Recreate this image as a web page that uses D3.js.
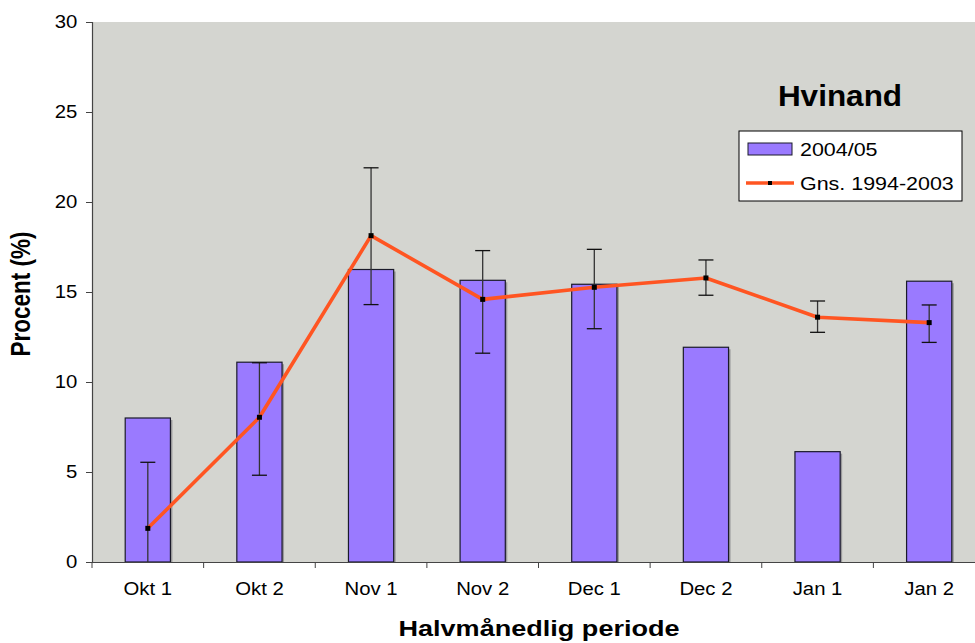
<!DOCTYPE html>
<html>
<head>
<meta charset="utf-8">
<script src="https://cdn.jsdelivr.net/npm/d3@7"></script>
<style>
  body { margin: 0; background: #fff; }
  text { font-family: "Liberation Sans", Arial, sans-serif; }
</style>
</head>
<body>
<div id="chart"></div>
<script>
const periods = ['Okt 1', 'Okt 2', 'Nov 1', 'Nov 2', 'Dec 1', 'Dec 2', 'Jan 1', 'Jan 2'];
const season = [8.0, 11.1, 16.25, 15.65, 15.43, 11.93, 6.13, 15.6];
const avg = [1.87, 8.04, 18.13, 14.59, 15.26, 15.78, 13.6, 13.3];
const errHigh = [5.54, 11.07, 21.9, 17.3, 17.37, 16.78, 14.5, 14.28];
const errLow = [-1.8, 4.82, 14.3, 11.6, 12.96, 14.82, 12.76, 12.2];
const yTicks = [0, 5, 10, 15, 20, 25, 30];

const W = 975, H = 643;
const margin = { top: 22, right: -10, bottom: 81, left: 92 };
const width = W - margin.left - margin.right;
const height = H - margin.top - margin.bottom;
// text in the original is a bit wider than it is tall
const stretch = 1.13;

const svg = d3.select('#chart').append('svg')
  .attr('width', W).attr('height', H);

const g = svg.append('g')
  .attr('transform', `translate(${margin.left},${margin.top})`);

const x = d3.scaleBand().domain(periods).range([0, width]).padding(0);
const y = d3.scaleLinear().domain([0, 30]).range([height, 0]);

g.append('defs').append('clipPath').attr('id', 'plotclip')
  .append('rect').attr('width', width).attr('height', height);

// plot background
g.append('rect')
  .attr('width', width).attr('height', height)
  .attr('fill', '#d4d5d0');

const barW = x.bandwidth() * 0.405;

// bar shadows
g.selectAll('.shadow')
  .data(season)
  .enter().append('rect')
  .attr('x', (d, i) => x(periods[i]) + (x.bandwidth() - barW) / 2 + 2)
  .attr('y', d => y(d) + 2)
  .attr('width', barW)
  .attr('height', d => height - y(d) - 2)
  .attr('fill', '#9a9a9a');

g.selectAll('.bar')
  .data(season)
  .enter().append('rect')
  .attr('class', 'bar')
  .attr('x', (d, i) => x(periods[i]) + (x.bandwidth() - barW) / 2)
  .attr('y', d => y(d))
  .attr('width', barW)
  .attr('height', d => height - y(d))
  .attr('fill', '#9a7aff')
  .attr('stroke', '#1a1a2a')
  .attr('stroke-width', 1.2);

const cx = i => x(periods[i]) + x.bandwidth() / 2;

// error bars
const eb = g.append('g').attr('clip-path', 'url(#plotclip)');
periods.forEach((p, i) => {
  eb.append('line')
    .attr('x1', cx(i)).attr('x2', cx(i))
    .attr('y1', y(errHigh[i])).attr('y2', y(errLow[i]))
    .attr('stroke', '#333').attr('stroke-width', 1.3);
  [errHigh[i], errLow[i]].forEach(v => {
    eb.append('line')
      .attr('x1', cx(i) - 7.5).attr('x2', cx(i) + 7.5)
      .attr('y1', y(v)).attr('y2', y(v))
      .attr('stroke', '#111').attr('stroke-width', 1.3);
  });
});

// average line
const line = d3.line()
  .x((d, i) => cx(i))
  .y(d => y(d));

g.append('path')
  .datum(avg)
  .attr('d', line)
  .attr('fill', 'none')
  .attr('stroke', '#ff5522')
  .attr('stroke-width', 3.6)
  .attr('stroke-linejoin', 'round');

g.selectAll('.pt')
  .data(avg)
  .enter().append('rect')
  .attr('x', (d, i) => cx(i) - 2.5)
  .attr('y', d => y(d) - 2.5)
  .attr('width', 5).attr('height', 5)
  .attr('fill', '#000');

// axes
const yAxis = g.append('g')
  .call(d3.axisLeft(y).tickValues(yTicks).tickSize(6).tickPadding(7));
yAxis.select('.domain').attr('stroke', '#444').attr('stroke-width', 1.2);
yAxis.selectAll('.tick line').attr('stroke', '#444');
yAxis.selectAll('text').attr('font-size', 18).attr('fill', '#000')
  .attr('font-family', '"Liberation Sans", Arial, sans-serif')
  .attr('transform', `scale(${stretch},1)`);

const xAxis = g.append('g')
  .attr('transform', `translate(0,${height})`)
  .call(d3.axisBottom(x).tickSize(0).tickPadding(20));
xAxis.select('.domain').attr('stroke', '#444').attr('stroke-width', 1.2);
xAxis.selectAll('text').attr('font-size', 18).attr('fill', '#000')
  .attr('font-family', '"Liberation Sans", Arial, sans-serif')
  .attr('transform', `scale(${stretch},1)`);

// x ticks at category boundaries
g.selectAll('.xtick')
  .data(d3.range(periods.length + 1))
  .enter().append('line')
  .attr('x1', i => i * x.bandwidth())
  .attr('x2', i => i * x.bandwidth())
  .attr('y1', height).attr('y2', height + 6)
  .attr('stroke', '#444');

// axis titles
svg.append('text')
  .attr('transform', 'translate(539,636) scale(1.23,1)')
  .attr('text-anchor', 'middle')
  .attr('font-size', 22).attr('font-weight', 'bold')
  .text('Halvmånedlig periode');

svg.append('text')
  .attr('transform', 'translate(30,294) rotate(-90) scale(1,1.2)')
  .attr('text-anchor', 'middle')
  .attr('font-size', 22.5).attr('font-weight', 'bold')
  .text('Procent (%)');

// chart title
svg.append('text')
  .attr('transform', 'translate(840,106) scale(1.05,1)')
  .attr('text-anchor', 'middle')
  .attr('font-size', 30).attr('font-weight', 'bold')
  .text('Hvinand');

// legend
const lg = svg.append('g').attr('transform', 'translate(739,131)');
lg.append('rect')
  .attr('width', 223).attr('height', 70)
  .attr('fill', '#fff').attr('stroke', '#000').attr('stroke-width', 1);
lg.append('rect')
  .attr('x', 9).attr('y', 12).attr('width', 44).attr('height', 12)
  .attr('fill', '#9a7aff').attr('stroke', '#1a1a2a').attr('stroke-width', 1);
lg.append('text')
  .attr('transform', 'translate(61,25) scale(1.16,1)')
  .attr('font-size', 18.5)
  .text('2004/05');
lg.append('line')
  .attr('x1', 7).attr('x2', 55).attr('y1', 52).attr('y2', 52)
  .attr('stroke', '#ff5522').attr('stroke-width', 3.6);
lg.append('rect')
  .attr('x', 29).attr('y', 50).attr('width', 4).attr('height', 4)
  .attr('fill', '#000');
lg.append('text')
  .attr('transform', 'translate(61,59) scale(1.16,1)')
  .attr('font-size', 18.5)
  .text('Gns. 1994-2003');
</script>
</body>
</html>
